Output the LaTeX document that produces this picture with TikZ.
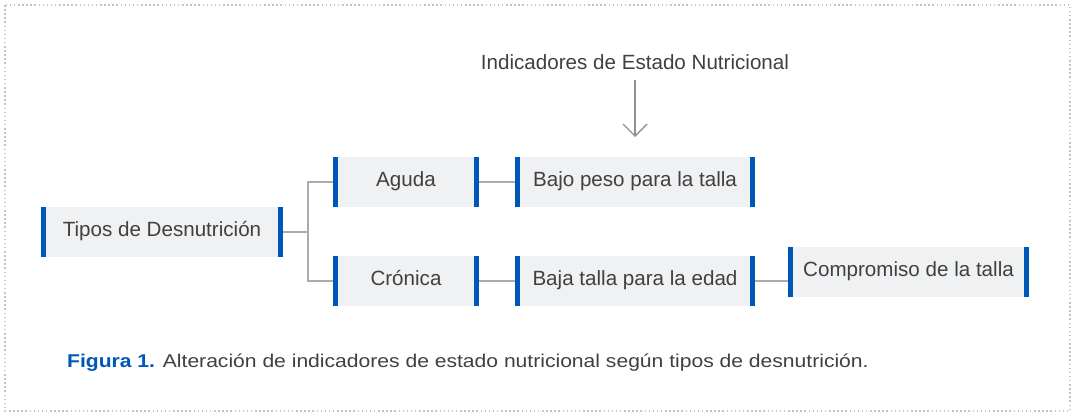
\documentclass[tikz,border=0pt]{standalone}
\usepackage{fontspec}
\setmainfont{Liberation Sans}
\newfontfamily\capfont[FakeStretch=1.14]{Liberation Sans}
\usetikzlibrary{arrows.meta}
\definecolor{barblue}{HTML}{0057B8}
\definecolor{boxfill}{HTML}{F0F1F3}
\definecolor{txtgray}{HTML}{404040}
\definecolor{linegray}{HTML}{ABABAB}
\definecolor{bordergray}{HTML}{C4C4C4}
\tikzset{
  boxnode/.style={fill=boxfill, inner sep=0pt, minimum height=50pt, text=txtgray,
    text height=15pt, text depth=7pt,
    font=\fontsize{20.6pt}{24pt}\selectfont,
    path picture={
      \fill[barblue] (path picture bounding box.north west) rectangle ([xshift=5pt]path picture bounding box.south west);
      \fill[barblue] (path picture bounding box.north east) rectangle ([xshift=-5pt]path picture bounding box.south east);
    }},
  conn/.style={draw=linegray, line width=2pt},
}
\begin{document}
\begin{tikzpicture}[x=1pt,y=-1pt]
\useasboundingbox (0,0) rectangle (1074,415);
\draw[bordergray, line width=1.2pt, dash pattern=on 1.5pt off 2.6pt] (5,5) rectangle (1070,411);

\node[boxnode, minimum width=242pt] (tipos) at (162,232) {Tipos de Desnutrición};
\node[boxnode, minimum width=146pt] (aguda) at (406,182) {Aguda};
\node[boxnode, minimum width=146pt] (cronica) at (406,281) {Crónica};
\node[boxnode, minimum width=240pt] (bajo) at (635,182) {Bajo peso para la talla};
\node[boxnode, minimum width=240pt] (baja) at (635,281) {Baja talla para la edad};
\node[boxnode, minimum width=241pt] (comp) at (908.5,272) {Compromiso de la talla};

\node[text=txtgray, font=\fontsize{20.6pt}{24pt}\selectfont, inner sep=0pt] (ind) at (635,62) {Indicadores de Estado Nutricional};
\coordinate (arrend) at (635,137);
\draw[draw=linegray!85!black, line width=1.4pt, -{Straight Barb[length=12pt,width=24pt,line width=1.4pt]}] (ind.south) ++(0,10) -- (arrend);

\coordinate (j) at (308,232);
\draw[conn] (tipos.east) -- (j);
\draw[conn] (aguda.west) -| (j) |- (cronica.west);
\draw[conn] (aguda.east) -- (bajo.west);
\draw[conn] (cronica.east) -- (baja.west);
\draw[conn] (baja.east) -- (comp.west |- baja.east);

\node[anchor=west, inner sep=0pt, text=txtgray, font=\capfont\fontsize{18.5pt}{22pt}\selectfont] (cap) at (67,363)
  {{\bfseries\color{barblue}Figura 1.} Alteración de indicadores de estado nutricional según tipos de desnutrición.};
\end{tikzpicture}
\end{document}
